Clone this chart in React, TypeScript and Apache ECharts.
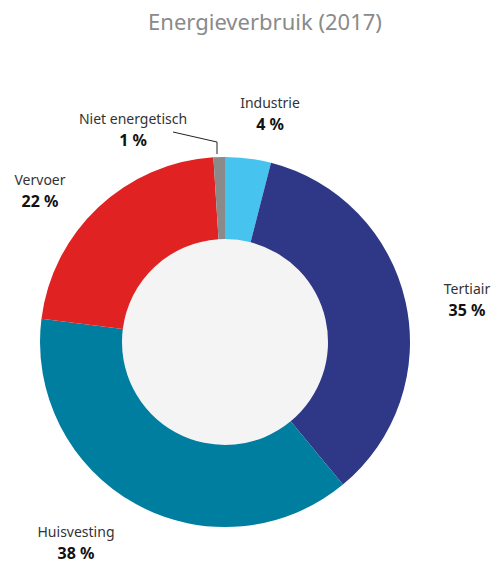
import React, { useEffect, useRef } from "react";
import * as echarts from "echarts";

const categories = ["Industrie", "Tertiair", "Huisvesting", "Vervoer", "Niet energetisch"];
const values = [4, 35, 38, 22, 1];
const colors = ["#47c3f0", "#2e3886", "#007ea0", "#e02222", "#8a8a8a"];
const labelPos: [number, number][] = [
  [270, 113],
  [467, 299],
  [76, 542],
  [40, 190],
  [133, 129],
];
const leaderPoints: [number, number][] = [
  [217, 154],
  [217, 142],
  [173, 132],
];

export default function App() {
  const ref = useRef<HTMLDivElement>(null);
  useEffect(() => {
    if (!ref.current) return;
    const chart = echarts.init(ref.current, undefined, { renderer: "svg" });
    chart.setOption({
      animation: false,
      backgroundColor: "#ffffff",
      title: {
        text: "Energieverbruik (2017)",
        left: 260,
        top: 5,
        textAlign: "center",
        textStyle: {
          fontFamily: "Noto Sans",
          fontSize: 22,
          fontWeight: "normal",
          color: "#8a8a8a",
        },
      },
      series: [
        {
          type: "pie",
          center: [225, 342],
          radius: [0, 103],
          silent: true,
          label: { show: false },
          labelLine: { show: false },
          itemStyle: { color: "#f4f4f4" },
          data: [{ value: 1, name: "" }],
        },
        {
          type: "pie",
          center: [225, 342],
          radius: [103, 185],
          startAngle: 90,
          clockwise: true,
          avoidLabelOverlap: false,
          itemStyle: { borderWidth: 0 },
          label: {
            show: true,
            formatter: (p: any) => `{n|${p.name}}\n{v|${p.value} %}`,
            rich: {
              n: {
                fontFamily: "Noto Sans",
                fontSize: 14,
                color: "#333333",
                lineHeight: 22,
                align: "center",
              },
              v: {
                fontFamily: "Noto Sans",
                fontSize: 16,
                fontWeight: "bold",
                color: "#111111",
                lineHeight: 22,
                align: "center",
              },
            },
          },
          labelLine: { show: false },
          labelLayout: (params: any) => {
            const i = params.dataIndex;
            const res: any = {
              x: labelPos[i][0],
              y: labelPos[i][1],
              align: "center",
              verticalAlign: "middle",
              hideOverlap: false,
              moveOverlap: null,
            };
            if (i === 4) res.labelLinePoints = leaderPoints;
            return res;
          },
          data: categories.map((c, i) => ({
            name: c,
            value: values[i],
            itemStyle: { color: colors[i] },
            labelLine:
              i === 4
                ? { show: true, lineStyle: { color: "#222222", width: 1 } }
                : { show: false },
          })),
        },
      ],
    });
    return () => chart.dispose();
  }, []);
  return (
    <div
      ref={ref}
      style={{ position: "fixed", left: 0, top: 0, width: 491, height: 563 }}
    />
  );
}
